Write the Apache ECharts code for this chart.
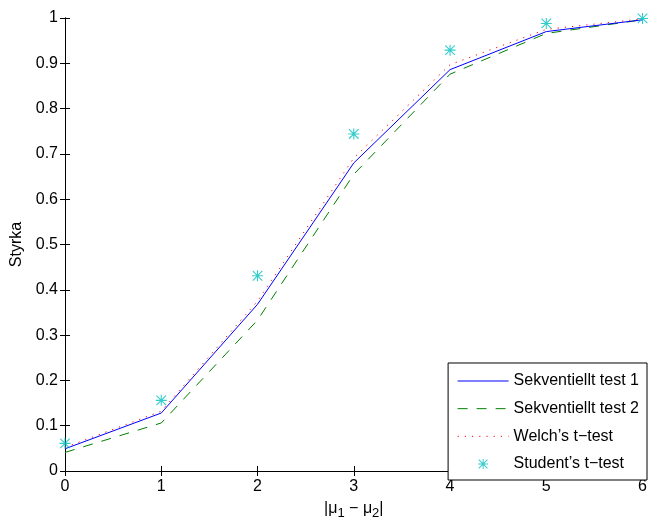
<!DOCTYPE html>
<html>
<head>
<meta charset="utf-8">
<script src="https://cdn.jsdelivr.net/npm/echarts@6/dist/echarts.min.js"></script>
<style>html,body{margin:0;padding:0;background:#fff}#c{width:650px;height:525px}</style>
</head>
<body>
<div id="c"></div>
<script>
const xValues = [0, 1, 2, 3, 4, 5, 6];
const seq1 = [0.049, 0.128, 0.368, 0.680, 0.886, 0.970, 0.996];
const seq2 = [0.041, 0.106, 0.333, 0.655, 0.876, 0.966, 0.996];
const welch = [0.052, 0.132, 0.375, 0.691, 0.897, 0.975, 0.998];
const student = [0.061, 0.156, 0.431, 0.744, 0.929, 0.988, 0.999];
const seriesNames = ['Sekventiellt test 1', 'Sekventiellt test 2', 'Welch\u2019s t\u2212test', 'Student\u2019s t\u2212test'];

const pair = arr => xValues.map((x, i) => [x, arr[i]]);
const FONT = '"Liberation Sans", Arial, Helvetica, sans-serif';
const asterisk = 'path://M45,0L55,0L55,100L45,100Z M0,45L100,45L100,55L0,55Z M3,10L10,3L97,90L90,97Z M90,3L97,10L10,97L3,90Z';

const chart = echarts.init(document.getElementById('c'), null, {renderer: 'canvas'});
const axisCommon = {
  axisLine: {show: true, lineStyle: {color: '#000', width: 1}},
  axisTick: {show: true, inside: true, length: 5, lineStyle: {color: '#000'}},
  splitLine: {show: false}
};
chart.setOption({
  animation: false,
  backgroundColor: '#fff',
  grid: {left: 65, right: 3, top: 18, bottom: 45},
  xAxis: [
    Object.assign({
      type: 'value', min: 0, max: 6, interval: 1, position: 'bottom',
      axisLabel: {color: '#000', fontSize: 16, fontFamily: FONT, margin: 8},
      name: '{n||\u03bc}{s|1}{n| \u2212 \u03bc}{s|2}{n||}',
      nameLocation: 'middle', nameGap: 26,
      nameTextStyle: {rich: {
        n: {fontSize: 16, fontFamily: FONT, color: '#000'},
        s: {fontSize: 13, fontFamily: FONT, color: '#000', verticalAlign: 'bottom', padding: [10, 0, 0, 0]}
      }}
    }, axisCommon),
    Object.assign({
      type: 'value', min: 0, max: 6, interval: 1, position: 'top',
      axisLabel: {show: false}
    }, axisCommon)
  ],
  yAxis: [
    Object.assign({
      type: 'value', min: 0, max: 1, interval: 0.1, position: 'left',
      axisLabel: {color: '#000', fontSize: 16, fontFamily: FONT, margin: 7},
      name: 'Styrka', nameLocation: 'middle', nameGap: 37, nameRotate: 90,
      nameTextStyle: {color: '#000', fontSize: 16, fontFamily: FONT}
    }, axisCommon),
    Object.assign({
      type: 'value', min: 0, max: 1, interval: 0.1, position: 'right',
      axisLabel: {show: false}
    }, axisCommon)
  ],
  legend: {
    orient: 'vertical', right: 3, bottom: 45,
    padding: [10, 8, 8, 9],
    itemWidth: 51, itemHeight: 10, itemGap: 11.67,
    backgroundColor: '#fff', borderColor: '#000', borderWidth: 1, borderRadius: 0,
    textStyle: {color: '#000', fontSize: 16, fontFamily: FONT},
    lineStyle: {width: 1},
    data: [
      {name: seriesNames[0], itemStyle: {opacity: 0}},
      {name: seriesNames[1], itemStyle: {opacity: 0}},
      {name: seriesNames[2], itemStyle: {opacity: 0}},
      {name: seriesNames[3]}
    ]
  },
  series: [
    {name: seriesNames[0], type: 'line', data: pair(seq1), symbol: 'none',
     lineStyle: {color: '#0000ff', width: 1}, itemStyle: {color: '#0000ff'}, z: 4},
    {name: seriesNames[1], type: 'line', data: pair(seq2), symbol: 'none',
     lineStyle: {color: '#008000', width: 1, type: [10, 9]}, itemStyle: {color: '#008000'}, z: 3},
    {name: seriesNames[2], type: 'line', data: pair(welch), symbol: 'none',
     lineStyle: {color: '#ff0000', width: 1, type: [1.2, 6]}, itemStyle: {color: '#ff0000'}, z: 2},
    {name: seriesNames[3], type: 'scatter', data: pair(student), symbol: asterisk, symbolSize: 11,
     symbolKeepAspect: true, itemStyle: {color: '#00bfbf'}, z: 5}
  ]
});
</script>
</body>
</html>
